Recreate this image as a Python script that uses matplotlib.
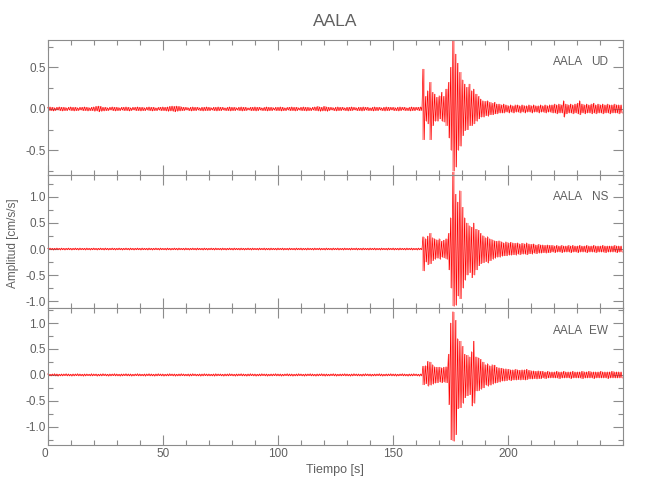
import numpy as np
import matplotlib
matplotlib.use('Agg')
import matplotlib.pyplot as plt
from matplotlib.ticker import MultipleLocator, FormatStrFormatter

plt.rcParams['font.family'] = ['Liberation Sans', 'DejaVu Sans']

station = 'AALA'
components = ['UD', 'NS', 'EW']

# 1 s time bins [s]
t_bins = np.arange(0, 250)

# peak amplitudes read per bin [cm/s/s], upper (hi) and lower (lo) envelope
# (first 163 values: pre-event noise, then the event from 163 s on)
ud_hi = [0.02, 0.025, 0.02, 0.015, 0.02, 0.025, 0.02, 0.02, 0.015, 0.02,
         0.025, 0.02, 0.02, 0.015, 0.02, 0.02, 0.025, 0.02, 0.015, 0.02,
         0.025, 0.03, 0.035, 0.03, 0.02, 0.02, 0.015, 0.02, 0.025, 0.02,
         0.02, 0.015, 0.02, 0.02, 0.025, 0.02, 0.015, 0.02, 0.02, 0.025,
         0.02, 0.02, 0.015, 0.02, 0.025, 0.02, 0.02, 0.015, 0.02, 0.02,
         0.025, 0.02, 0.025, 0.03, 0.035, 0.03, 0.035, 0.03, 0.025, 0.02,
         0.02, 0.015, 0.02, 0.025, 0.02, 0.02, 0.015, 0.02, 0.02, 0.025,
         0.02, 0.015, 0.02, 0.02, 0.025, 0.02, 0.02, 0.015, 0.02, 0.025,
         0.02, 0.02, 0.015, 0.02, 0.025, 0.02, 0.02, 0.015, 0.02, 0.02,
         0.025, 0.02, 0.02, 0.015, 0.02, 0.025, 0.02, 0.02, 0.015, 0.02,
         0.02, 0.025, 0.02, 0.015, 0.02, 0.02, 0.025, 0.02, 0.02, 0.015,
         0.02, 0.025, 0.02, 0.02, 0.015, 0.02, 0.025, 0.03, 0.025, 0.02,
         0.03, 0.025, 0.02, 0.02, 0.015, 0.02, 0.025, 0.02, 0.02, 0.015,
         0.02, 0.02, 0.025, 0.02, 0.015, 0.02, 0.02, 0.025, 0.02, 0.02,
         0.015, 0.02, 0.025, 0.02, 0.02, 0.015, 0.02, 0.025, 0.02, 0.02,
         0.02, 0.015, 0.02, 0.025, 0.02, 0.02, 0.015, 0.02, 0.025, 0.02,
         0.02, 0.02, 0.025,
         0.48, 0.15, 0.22, 0.32, 0.2, 0.18, 0.14, 0.16, 0.2, 0.15,
         0.24, 0.32, 0.5, 0.82, 0.66, 0.55, 0.44, 0.35, 0.3, 0.26,
         0.3, 0.22, 0.24, 0.18, 0.15, 0.12, 0.1, 0.09, 0.1, 0.08,
         0.07, 0.08, 0.06, 0.06, 0.05, 0.06,
         0.05, 0.04, 0.05, 0.04, 0.05, 0.05, 0.04, 0.05, 0.04, 0.04,
         0.05, 0.04, 0.05, 0.04, 0.04, 0.05, 0.04, 0.05, 0.04, 0.05,
         0.05, 0.06, 0.05, 0.06, 0.05, 0.1, 0.06, 0.05, 0.06, 0.05,
         0.06, 0.07, 0.1, 0.06, 0.05, 0.06, 0.05, 0.06, 0.07, 0.05,
         0.06, 0.05, 0.06, 0.05, 0.06, 0.05, 0.05, 0.06, 0.05, 0.05,
         0.05]
ud_lo = [-0.02, -0.02, -0.025, -0.02, -0.015, -0.02, -0.025, -0.02, -0.02, -0.015,
         -0.02, -0.025, -0.02, -0.02, -0.015, -0.02, -0.02, -0.025, -0.02, -0.02,
         -0.03, -0.025, -0.035, -0.03, -0.025, -0.02, -0.02, -0.015, -0.02, -0.025,
         -0.02, -0.02, -0.015, -0.02, -0.02, -0.025, -0.02, -0.015, -0.02, -0.02,
         -0.025, -0.02, -0.02, -0.015, -0.02, -0.025, -0.02, -0.02, -0.015, -0.02,
         -0.02, -0.025, -0.03, -0.025, -0.03, -0.035, -0.03, -0.025, -0.02, -0.02,
         -0.015, -0.02, -0.025, -0.02, -0.02, -0.015, -0.02, -0.025, -0.02, -0.02,
         -0.02, -0.015, -0.02, -0.025, -0.02, -0.02, -0.015, -0.02, -0.02, -0.025,
         -0.02, -0.02, -0.015, -0.02, -0.025, -0.02, -0.02, -0.015, -0.02, -0.02,
         -0.025, -0.02, -0.015, -0.02, -0.02, -0.025, -0.02, -0.02, -0.015, -0.02,
         -0.02, -0.025, -0.02, -0.02, -0.015, -0.02, -0.02, -0.025, -0.02, -0.015,
         -0.02, -0.02, -0.025, -0.02, -0.02, -0.015, -0.02, -0.025, -0.03, -0.025,
         -0.025, -0.03, -0.02, -0.015, -0.02, -0.025, -0.02, -0.02, -0.015, -0.02,
         -0.025, -0.02, -0.02, -0.015, -0.02, -0.02, -0.025, -0.02, -0.015, -0.02,
         -0.02, -0.025, -0.02, -0.02, -0.015, -0.02, -0.025, -0.02, -0.02, -0.015,
         -0.02, -0.02, -0.025, -0.02, -0.015, -0.02, -0.02, -0.025, -0.02, -0.02,
         -0.015, -0.02, -0.02,
         -0.37, -0.15, -0.18, -0.37, -0.2, -0.15, -0.15, -0.12, -0.15, -0.16,
         -0.2, -0.35, -0.5, -0.75, -0.7, -0.5, -0.45, -0.32, -0.26, -0.25,
         -0.2, -0.2, -0.18, -0.15, -0.12, -0.1, -0.1, -0.08, -0.09, -0.07,
         -0.07, -0.06, -0.06, -0.05, -0.05, -0.05,
         -0.04, -0.05, -0.04, -0.05, -0.04, -0.04, -0.05, -0.04, -0.05, -0.04,
         -0.04, -0.05, -0.04, -0.04, -0.05, -0.04, -0.04, -0.05, -0.04, -0.04,
         -0.05, -0.05, -0.06, -0.05, -0.05, -0.1, -0.06, -0.05, -0.05, -0.06,
         -0.05, -0.06, -0.07, -0.05, -0.06, -0.05, -0.05, -0.06, -0.05, -0.06,
         -0.05, -0.05, -0.06, -0.05, -0.05, -0.06, -0.05, -0.05, -0.05, -0.06,
         -0.05]

ns_hi = [0.015, 0.02, 0.015, 0.015, 0.02, 0.015, 0.02, 0.015, 0.015, 0.02,
         0.015, 0.015, 0.02, 0.015, 0.02, 0.015, 0.015, 0.02, 0.015, 0.015,
         0.02, 0.015, 0.015, 0.02, 0.015, 0.02, 0.015, 0.015, 0.02, 0.015,
         0.015, 0.02, 0.015, 0.015, 0.02, 0.015, 0.02, 0.015, 0.015, 0.02,
         0.015, 0.02, 0.015, 0.015, 0.02, 0.015, 0.015, 0.02, 0.015, 0.02,
         0.015, 0.015, 0.02, 0.015, 0.015, 0.02, 0.015, 0.02, 0.015, 0.015,
         0.02, 0.015, 0.015, 0.02, 0.015, 0.02, 0.015, 0.015, 0.02, 0.015,
         0.015, 0.02, 0.015, 0.02, 0.015, 0.015, 0.02, 0.015, 0.015, 0.02,
         0.015, 0.02, 0.015, 0.015, 0.02, 0.015, 0.015, 0.02, 0.015, 0.02,
         0.015, 0.015, 0.02, 0.015, 0.02, 0.015, 0.015, 0.02, 0.015, 0.015,
         0.02, 0.015, 0.02, 0.015, 0.015, 0.02, 0.015, 0.015, 0.02, 0.015,
         0.02, 0.015, 0.015, 0.02, 0.015, 0.015, 0.02, 0.015, 0.02, 0.015,
         0.015, 0.02, 0.015, 0.015, 0.02, 0.015, 0.02, 0.015, 0.015, 0.02,
         0.015, 0.015, 0.02, 0.015, 0.02, 0.015, 0.015, 0.02, 0.015, 0.015,
         0.02, 0.015, 0.02, 0.015, 0.015, 0.02, 0.015, 0.015, 0.02, 0.015,
         0.02, 0.015, 0.015, 0.02, 0.015, 0.015, 0.02, 0.015, 0.02, 0.015,
         0.015, 0.02, 0.015,
         0.24, 0.2, 0.25, 0.3, 0.22, 0.2, 0.18, 0.2, 0.15, 0.17,
         0.2, 0.3, 0.6, 1.48, 1.05, 0.9, 1.12, 0.8, 0.6, 0.5,
         0.45, 0.42, 0.5, 0.38, 0.36, 0.3, 0.26, 0.22, 0.24, 0.2,
         0.18, 0.16, 0.15, 0.16, 0.14, 0.12,
         0.14, 0.12, 0.13, 0.12, 0.11, 0.12, 0.1, 0.11, 0.1, 0.12,
         0.1, 0.09, 0.1, 0.08, 0.09, 0.08, 0.08, 0.07, 0.08, 0.07,
         0.07, 0.06, 0.07, 0.06, 0.07, 0.06, 0.06, 0.07, 0.06, 0.07,
         0.06, 0.06, 0.07, 0.06, 0.06, 0.07, 0.06, 0.06, 0.07, 0.06,
         0.06, 0.06, 0.07, 0.06, 0.06, 0.06, 0.06, 0.07, 0.06, 0.06,
         0.06]
ns_lo = [-0.015, -0.015, -0.02, -0.015, -0.015, -0.02, -0.015, -0.02, -0.015, -0.015,
         -0.02, -0.015, -0.015, -0.02, -0.015, -0.015, -0.02, -0.015, -0.02, -0.015,
         -0.015, -0.02, -0.015, -0.015, -0.02, -0.015, -0.02, -0.015, -0.015, -0.02,
         -0.015, -0.015, -0.02, -0.015, -0.015, -0.02, -0.015, -0.02, -0.015, -0.015,
         -0.02, -0.015, -0.015, -0.02, -0.015, -0.02, -0.015, -0.015, -0.02, -0.015,
         -0.015, -0.02, -0.015, -0.02, -0.015, -0.015, -0.02, -0.015, -0.015, -0.02,
         -0.015, -0.02, -0.015, -0.015, -0.02, -0.015, -0.015, -0.02, -0.015, -0.02,
         -0.015, -0.015, -0.02, -0.015, -0.015, -0.02, -0.015, -0.02, -0.015, -0.015,
         -0.02, -0.015, -0.015, -0.02, -0.015, -0.02, -0.015, -0.015, -0.02, -0.015,
         -0.015, -0.02, -0.015, -0.015, -0.02, -0.015, -0.02, -0.015, -0.015, -0.02,
         -0.015, -0.015, -0.02, -0.015, -0.02, -0.015, -0.015, -0.02, -0.015, -0.015,
         -0.02, -0.015, -0.02, -0.015, -0.015, -0.02, -0.015, -0.015, -0.02, -0.015,
         -0.02, -0.015, -0.015, -0.02, -0.015, -0.015, -0.02, -0.015, -0.02, -0.015,
         -0.015, -0.02, -0.015, -0.015, -0.02, -0.015, -0.02, -0.015, -0.015, -0.02,
         -0.015, -0.015, -0.02, -0.015, -0.02, -0.015, -0.015, -0.02, -0.015, -0.015,
         -0.02, -0.015, -0.02, -0.015, -0.015, -0.02, -0.015, -0.015, -0.02, -0.015,
         -0.02, -0.015, -0.015,
         -0.42, -0.25, -0.3, -0.28, -0.22, -0.2, -0.18, -0.2, -0.16, -0.17,
         -0.2, -0.4, -0.75, -1.1, -1.08, -0.9, -0.95, -0.75, -0.6, -0.5,
         -0.45, -0.55, -0.5, -0.4, -0.32, -0.28, -0.26, -0.24, -0.27, -0.22,
         -0.2, -0.18, -0.16, -0.16, -0.14, -0.13,
         -0.13, -0.12, -0.12, -0.11, -0.12, -0.1, -0.11, -0.1, -0.1, -0.11,
         -0.09, -0.1, -0.08, -0.09, -0.08, -0.08, -0.07, -0.08, -0.07, -0.07,
         -0.06, -0.07, -0.06, -0.06, -0.07, -0.06, -0.06, -0.06, -0.07, -0.06,
         -0.06, -0.07, -0.06, -0.06, -0.06, -0.07, -0.06, -0.06, -0.06, -0.07,
         -0.06, -0.06, -0.06, -0.07, -0.06, -0.06, -0.06, -0.06, -0.07, -0.06,
         -0.06]

ew_hi = [0.02, 0.015, 0.02, 0.025, 0.02, 0.015, 0.02, 0.02, 0.025, 0.02,
         0.015, 0.02, 0.02, 0.025, 0.02, 0.015, 0.02, 0.02, 0.015, 0.025,
         0.02, 0.02, 0.015, 0.02, 0.025, 0.02, 0.015, 0.02, 0.02, 0.025,
         0.02, 0.015, 0.02, 0.02, 0.025, 0.02, 0.02, 0.015, 0.02, 0.025,
         0.02, 0.015, 0.02, 0.02, 0.025, 0.02, 0.015, 0.02, 0.025, 0.02,
         0.02, 0.015, 0.02, 0.025, 0.02, 0.02, 0.015, 0.02, 0.025, 0.02,
         0.015, 0.02, 0.02, 0.025, 0.02, 0.015, 0.02, 0.02, 0.025, 0.02,
         0.02, 0.015, 0.02, 0.025, 0.02, 0.02, 0.015, 0.02, 0.02, 0.025,
         0.02, 0.015, 0.02, 0.02, 0.025, 0.02, 0.015, 0.02, 0.025, 0.02,
         0.02, 0.015, 0.02, 0.025, 0.02, 0.02, 0.015, 0.02, 0.02, 0.025,
         0.02, 0.02, 0.015, 0.02, 0.025, 0.02, 0.02, 0.015, 0.02, 0.025,
         0.02, 0.015, 0.02, 0.02, 0.025, 0.02, 0.015, 0.02, 0.02, 0.025,
         0.02, 0.02, 0.015, 0.02, 0.025, 0.02, 0.015, 0.02, 0.02, 0.025,
         0.02, 0.015, 0.02, 0.025, 0.02, 0.02, 0.015, 0.02, 0.025, 0.02,
         0.02, 0.015, 0.02, 0.02, 0.025, 0.02, 0.015, 0.02, 0.02, 0.025,
         0.02, 0.02, 0.015, 0.02, 0.025, 0.02, 0.015, 0.02, 0.02, 0.025,
         0.02, 0.015, 0.02,
         0.17, 0.18, 0.26, 0.25, 0.2, 0.16, 0.15, 0.15, 0.14, 0.15,
         0.16, 0.4, 1.0, 1.22, 1.05, 0.7, 0.65, 0.55, 0.4, 0.38,
         0.35, 0.45, 0.65, 0.35, 0.33, 0.3, 0.25, 0.2, 0.22, 0.18,
         0.2, 0.19, 0.15, 0.14, 0.13, 0.12,
         0.12, 0.11, 0.1, 0.1, 0.11, 0.1, 0.09, 0.1, 0.1, 0.11,
         0.09, 0.08, 0.08, 0.07, 0.08, 0.07, 0.07, 0.06, 0.07, 0.06,
         0.06, 0.06, 0.07, 0.06, 0.06, 0.07, 0.06, 0.06, 0.06, 0.07,
         0.06, 0.06, 0.06, 0.07, 0.06, 0.06, 0.07, 0.06, 0.06, 0.06,
         0.06, 0.07, 0.06, 0.06, 0.06, 0.06, 0.07, 0.06, 0.06, 0.06,
         0.06]
ew_lo = [-0.02, -0.02, -0.015, -0.02, -0.025, -0.02, -0.02, -0.015, -0.02, -0.02,
         -0.025, -0.02, -0.015, -0.02, -0.02, -0.025, -0.02, -0.015, -0.02, -0.02,
         -0.015, -0.025, -0.02, -0.02, -0.015, -0.02, -0.025, -0.02, -0.015, -0.02,
         -0.02, -0.025, -0.02, -0.015, -0.02, -0.02, -0.025, -0.02, -0.015, -0.02,
         -0.02, -0.02, -0.025, -0.015, -0.02, -0.02, -0.025, -0.02, -0.015, -0.02,
         -0.025, -0.02, -0.02, -0.015, -0.02, -0.025, -0.02, -0.02, -0.015, -0.02,
         -0.02, -0.025, -0.02, -0.015, -0.02, -0.02, -0.025, -0.02, -0.015, -0.02,
         -0.02, -0.02, -0.025, -0.02, -0.015, -0.02, -0.025, -0.02, -0.02, -0.015,
         -0.02, -0.025, -0.02, -0.015, -0.02, -0.02, -0.025, -0.02, -0.015, -0.02,
         -0.025, -0.02, -0.02, -0.015, -0.02, -0.025, -0.02, -0.02, -0.015, -0.02,
         -0.02, -0.025, -0.02, -0.015, -0.02, -0.02, -0.025, -0.02, -0.02, -0.015,
         -0.02, -0.025, -0.02, -0.015, -0.02, -0.02, -0.025, -0.02, -0.015, -0.02,
         -0.025, -0.02, -0.02, -0.015, -0.02, -0.025, -0.02, -0.02, -0.015, -0.02,
         -0.02, -0.025, -0.02, -0.015, -0.02, -0.02, -0.025, -0.02, -0.015, -0.02,
         -0.025, -0.02, -0.02, -0.015, -0.02, -0.025, -0.02, -0.02, -0.015, -0.02,
         -0.02, -0.025, -0.02, -0.015, -0.02, -0.02, -0.025, -0.02, -0.02, -0.015,
         -0.02, -0.025, -0.02,
         -0.19, -0.17, -0.22, -0.2, -0.18, -0.16, -0.15, -0.14, -0.15, -0.14,
         -0.15, -0.57, -1.25, -1.28, -1.15, -0.65, -0.63, -0.55, -0.44, -0.4,
         -0.38, -0.6, -0.55, -0.31, -0.3, -0.28, -0.25, -0.2, -0.22, -0.2,
         -0.18, -0.16, -0.15, -0.14, -0.12, -0.12,
         -0.11, -0.1, -0.11, -0.1, -0.1, -0.09, -0.1, -0.09, -0.1, -0.09,
         -0.08, -0.08, -0.07, -0.08, -0.07, -0.07, -0.06, -0.07, -0.06, -0.06,
         -0.06, -0.06, -0.06, -0.07, -0.06, -0.06, -0.06, -0.06, -0.07, -0.06,
         -0.06, -0.06, -0.06, -0.07, -0.06, -0.06, -0.06, -0.06, -0.07, -0.06,
         -0.06, -0.06, -0.06, -0.06, -0.07, -0.06, -0.06, -0.06, -0.06, -0.06,
         -0.06]

y_limits = [(-0.795, 0.83), (-1.13, 1.42), (-1.35, 1.29)]
y_ticks = [[-0.5, 0.0, 0.5], [-1.0, -0.5, 0.0, 0.5, 1.0], [-1.0, -0.5, 0.0, 0.5, 1.0]]
x_ticks = [0, 50, 100, 150, 200]

envelopes = [(ud_hi, ud_lo), (ns_hi, ns_lo), (ew_hi, ew_lo)]

grey = '#8c8c8c'
text_grey = '#606060'

fig = plt.figure(figsize=(6.5, 5), dpi=100)
boxes = [[0.0734, 0.65, 0.8856, 0.27],
         [0.0734, 0.384, 0.8856, 0.266],
         [0.0734, 0.11, 0.8856, 0.274]]

# each 1 s bin draws one up/down stroke
x_trace = np.column_stack([t_bins, t_bins + 0.5]).ravel()

for i, comp in enumerate(components):
    ax = fig.add_axes(boxes[i])
    hi, lo = envelopes[i]
    y_trace = np.column_stack([hi, lo]).ravel()
    ax.fill_between(t_bins + 0.25, hi, lo, color='#ffb4b4', lw=0, step='mid',
                    clip_on=False)
    ax.plot(x_trace, y_trace, color='#ff0000', lw=0.45, clip_on=False)

    ax.set_xlim(0, 250)
    ax.set_ylim(*y_limits[i])
    ax.set_xticks(x_ticks)
    ax.set_yticks(y_ticks[i])
    ax.xaxis.set_minor_locator(MultipleLocator(10))
    ax.yaxis.set_minor_locator(MultipleLocator(0.25))
    ax.yaxis.set_major_formatter(FormatStrFormatter('%.1f'))
    ax.tick_params(which='both', direction='in', top=True, right=True,
                   color=grey, labelcolor=text_grey, labelsize=8.5, width=0.8)
    ax.tick_params(which='major', length=7)
    ax.tick_params(which='minor', length=3.5)
    ax.tick_params(axis='y', pad=1.5)
    ax.tick_params(axis='x', pad=2.5)
    for sp in ax.spines.values():
        sp.set_color(grey)
        sp.set_linewidth(0.8)
    if i < 2:
        ax.tick_params(labelbottom=False)
    else:
        # the "0" label sits a little left of its tick, as in the original
        ax.get_xticklabels()[0].set_horizontalalignment('right')

    ax.text(0.93, 0.835, station, transform=ax.transAxes, fontsize=8.5,
            color=text_grey, va='center', ha='right')
    ax.text(0.974, 0.835, comp, transform=ax.transAxes, fontsize=8.5,
            color=text_grey, va='center', ha='right')

fig.text(0.516, 0.958, station, fontsize=12.5, color=text_grey, ha='center', va='center')
fig.text(0.0205, 0.514, 'Amplitud [cm/s/s]', fontsize=8.5, color=text_grey,
         rotation=90, ha='center', va='center')
fig.text(0.516, 0.06, 'Tiempo [s]', fontsize=9, color=text_grey, ha='center', va='center')

fig.savefig('out.png', dpi=100, facecolor='white')
